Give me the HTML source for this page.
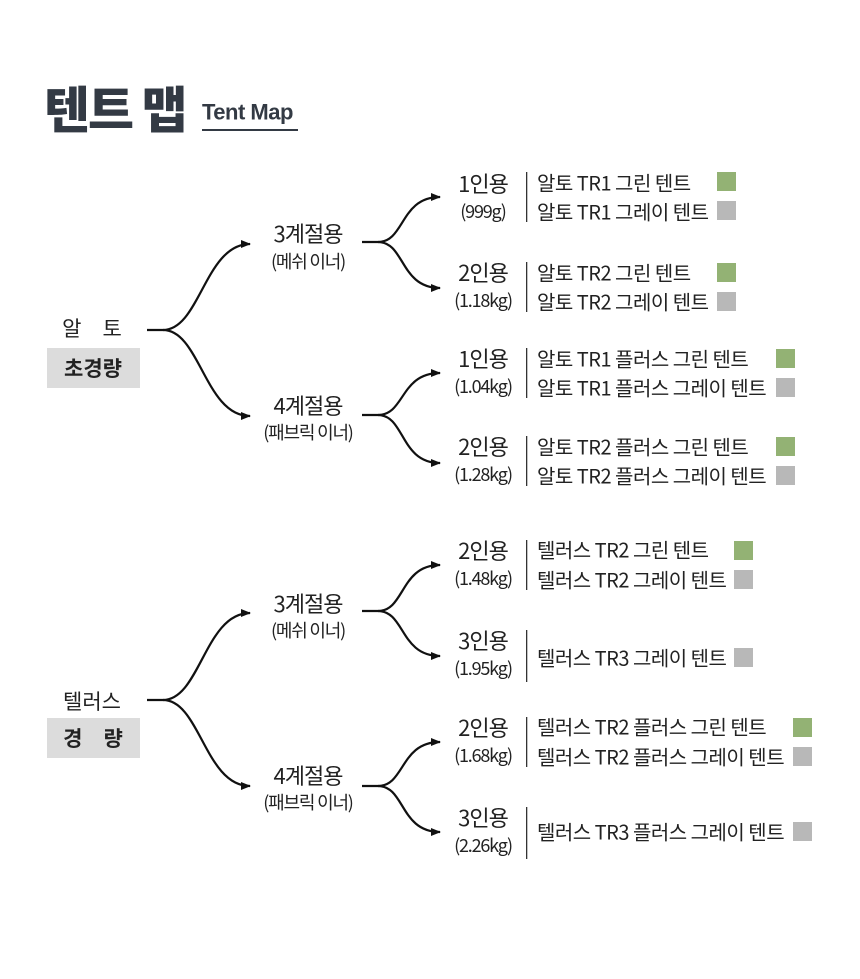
<!DOCTYPE html>
<html><head><meta charset="utf-8"><style>
html,body{margin:0;padding:0;background:#fff;}
svg{display:block;}
text{font-family:"Liberation Sans","Noto Sans CJK KR",sans-serif;fill:#222;dominant-baseline:central;}
.k{font-family:"Noto Sans CJK KR","Liberation Sans",sans-serif;}
.n{font-size:22px;letter-spacing:-1px;text-anchor:middle;}
.s{font-size:18px;letter-spacing:-1.2px;text-anchor:middle;}
.p{font-size:20px;letter-spacing:-0.5px;}
path{fill:none;stroke:#111;stroke-width:2.2;}
</style></head><body>
<svg width="860" height="979" viewBox="0 0 860 979" xmlns="http://www.w3.org/2000/svg">
<defs><marker id="a" markerWidth="10" markerHeight="8" refX="9" refY="4" orient="auto" markerUnits="userSpaceOnUse"><polygon points="0,0 10,4 0,8" fill="#111"/></marker></defs>
<text class="k" x="44" y="107" style="font-size:50px;font-weight:900;fill:#333a44;letter-spacing:-2px">텐트 맵</text>
<text x="202" y="112" style="font-size:22px;font-weight:bold;fill:#333a44;letter-spacing:-0.5px">Tent Map</text>
<rect x="202" y="129" width="96" height="2" fill="#333a44"/>

<text class="k" x="92" y="328" style="font-size:21px;text-anchor:middle;">알　토</text>
<rect x="47" y="348" width="93" height="40" fill="#dcdcdc"/>
<text class="k" x="93" y="368" style="font-size:21px;font-weight:bold;text-anchor:middle">초경량</text>
<path d="M147 330 H163 C200 330 205 244 250 244" marker-end="url(#a)"/>
<path d="M163 330 C200 330 205 416 250 416" marker-end="url(#a)"/>
<text class="k n" x="308" y="233">3계절용</text><text class="k s" x="308" y="261">(메쉬 이너)</text>
<text class="k n" x="308" y="405">4계절용</text><text class="k s" x="308" y="432">(패브릭 이너)</text>
<path d="M362 242 H378 C405 242 400 197 440 197" marker-end="url(#a)"/>
<path d="M378 242 C405 242 400 288 440 288" marker-end="url(#a)"/>
<path d="M362 415 H378 C405 415 400 373 440 373" marker-end="url(#a)"/>
<path d="M378 415 C405 415 400 463 440 463" marker-end="url(#a)"/>

<text class="k" x="92" y="701" style="font-size:21px;text-anchor:middle;">텔러스</text>
<rect x="47" y="718" width="93" height="40" fill="#dcdcdc"/>
<text class="k" x="93" y="738" style="font-size:21px;font-weight:bold;text-anchor:middle">경　량</text>
<path d="M147 700 H163 C200 700 205 613 250 613" marker-end="url(#a)"/>
<path d="M163 700 C200 700 205 786 250 786" marker-end="url(#a)"/>
<text class="k n" x="308" y="603">3계절용</text><text class="k s" x="308" y="630">(메쉬 이너)</text>
<text class="k n" x="308" y="775">4계절용</text><text class="k s" x="308" y="802">(패브릭 이너)</text>
<path d="M362 611 H378 C405 611 400 565 440 565" marker-end="url(#a)"/>
<path d="M378 611 C405 611 400 656 440 656" marker-end="url(#a)"/>
<path d="M362 786 H378 C405 786 400 742 440 742" marker-end="url(#a)"/>
<path d="M378 786 C405 786 400 832 440 832" marker-end="url(#a)"/>

<g>
<text class="k n" x="483" y="183">1인용</text><text class="k s" x="483" y="211">(999g)</text>
<text class="k n" x="483" y="272">2인용</text><text class="k s" x="483" y="300">(1.18kg)</text>
<text class="k n" x="483" y="358">1인용</text><text class="k s" x="483" y="386">(1.04kg)</text>
<text class="k n" x="483" y="446">2인용</text><text class="k s" x="483" y="474">(1.28kg)</text>
<text class="k n" x="483" y="550">2인용</text><text class="k s" x="483" y="578">(1.48kg)</text>
<text class="k n" x="483" y="640">3인용</text><text class="k s" x="483" y="668">(1.95kg)</text>
<text class="k n" x="483" y="727">2인용</text><text class="k s" x="483" y="755">(1.68kg)</text>
<text class="k n" x="483" y="817">3인용</text><text class="k s" x="483" y="845">(2.26kg)</text>
</g>
<g fill="#333">
<rect x="526" y="172" width="1.3" height="50"/>
<rect x="526" y="262" width="1.3" height="50"/>
<rect x="526" y="348" width="1.3" height="50"/>
<rect x="526" y="436" width="1.3" height="50"/>
<rect x="526" y="540" width="1.3" height="50"/>
<rect x="526" y="630" width="1.3" height="52"/>
<rect x="526" y="717" width="1.3" height="50"/>
<rect x="526" y="807" width="1.3" height="52"/>
</g>
<g>
<text class="k p" x="537" y="182">알토 TR1 그린 텐트</text>
<text class="k p" x="537" y="211">알토 TR1 그레이 텐트</text>
<text class="k p" x="537" y="272">알토 TR2 그린 텐트</text>
<text class="k p" x="537" y="301">알토 TR2 그레이 텐트</text>
<text class="k p" x="537" y="358">알토 TR1 플러스 그린 텐트</text>
<text class="k p" x="537" y="387">알토 TR1 플러스 그레이 텐트</text>
<text class="k p" x="537" y="446">알토 TR2 플러스 그린 텐트</text>
<text class="k p" x="537" y="475">알토 TR2 플러스 그레이 텐트</text>
<text class="k p" x="537" y="549">텔러스 TR2 그린 텐트</text>
<text class="k p" x="537" y="579">텔러스 TR2 그레이 텐트</text>
<text class="k p" x="537" y="657">텔러스 TR3 그레이 텐트</text>
<text class="k p" x="537" y="726">텔러스 TR2 플러스 그린 텐트</text>
<text class="k p" x="537" y="756">텔러스 TR2 플러스 그레이 텐트</text>
<text class="k p" x="537" y="831">텔러스 TR3 플러스 그레이 텐트</text>
</g>
<g>
<rect x="717" y="172" width="19" height="19" fill="#93b274"/>
<rect x="717" y="201" width="19" height="19" fill="#b8b8b8"/>
<rect x="717" y="263" width="19" height="19" fill="#93b274"/>
<rect x="717" y="292" width="19" height="19" fill="#b8b8b8"/>
<rect x="776" y="349" width="19" height="19" fill="#93b274"/>
<rect x="776" y="378" width="19" height="19" fill="#b8b8b8"/>
<rect x="776" y="437" width="19" height="19" fill="#93b274"/>
<rect x="776" y="466" width="19" height="19" fill="#b8b8b8"/>
<rect x="734" y="541" width="19" height="19" fill="#93b274"/>
<rect x="734" y="570" width="19" height="19" fill="#b8b8b8"/>
<rect x="734" y="648" width="19" height="19" fill="#b8b8b8"/>
<rect x="793" y="718" width="19" height="19" fill="#93b274"/>
<rect x="793" y="747" width="19" height="19" fill="#b8b8b8"/>
<rect x="793" y="822" width="19" height="19" fill="#b8b8b8"/>
</g>
</svg>
</body></html>
